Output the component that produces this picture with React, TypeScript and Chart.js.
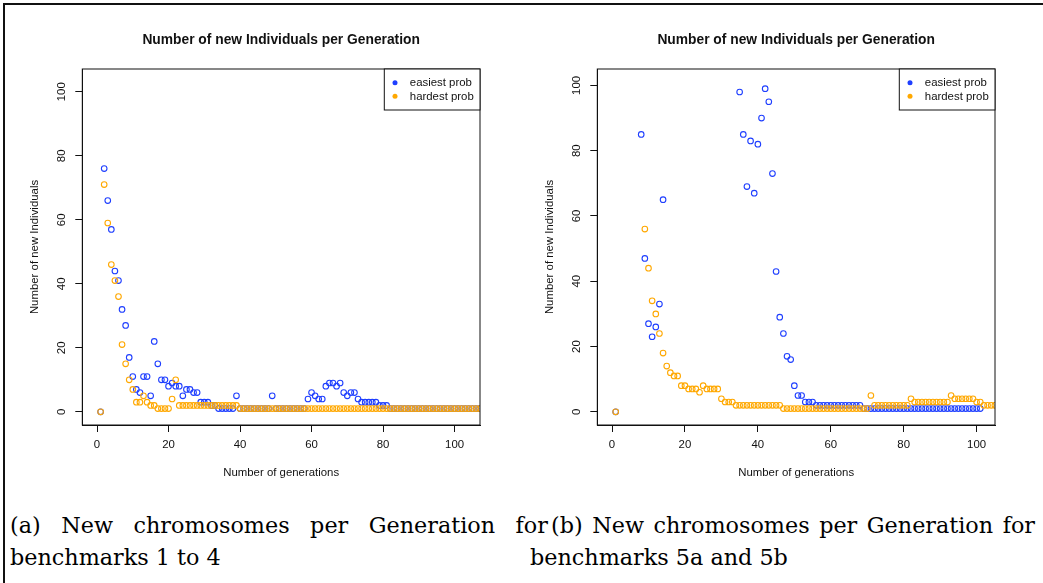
import React, { useEffect, useRef } from "react";
import { Chart, registerables } from "chart.js";

Chart.register(...registerables);

// ---------- data ----------
const chartTitle = "Number of new Individuals per Generation";
const xTitle = "Number of generations";
const yTitle = "Number of new Individuals";
const seriesLabels = ["easiest prob", "hardest prob"];
const xTicks = [0, 20, 40, 60, 80, 100];
const yTicks = [0, 20, 40, 60, 80, 100];
const captionA = ["(a) New chromosomes per Generation for", "benchmarks 1 to 4"];
const captionB = ["(b) New chromosomes per Generation for", "benchmarks 5a and 5b"];

// panel (a): benchmarks 1 to 4
const aGenerations = [
  1, 2, 3, 4, 5, 6, 7, 8, 9, 10, 11, 12, 13, 14, 15, 16, 17, 18, 19, 20,
  21, 22, 23, 24, 25, 26, 27, 28, 29, 30, 31, 32, 33, 34, 35, 36, 37, 38, 39, 40,
  41, 42, 43, 44, 45, 46, 47, 48, 49, 50, 51, 52, 53, 54, 55, 56, 57, 58, 59, 60,
  61, 62, 63, 64, 65, 66, 67, 68, 69, 70, 71, 72, 73, 74, 75, 76, 77, 78, 79, 80,
  81, 82, 83, 84, 85, 86, 87, 88, 89, 90, 91, 92, 93, 94, 95, 96, 97, 98, 99, 100,
  101, 102, 103, 104, 105, 106, 107,
];
const aEasiest = [
  0, 76, 66, 57, 44, 41, 32, 27, 17, 11,
  7, 6, 11, 11, 5, 22, 15, 10, 10, 8,
  9, 8, 8, 5, 7, 7, 6, 6, 3, 3,
  3, 2, 2, 1, 1, 1, 1, 1, 5, 1,
  1, 1, 1, 1, 1, 1, 1, 1, 5, 1,
  1, 1, 1, 1, 1, 1, 1, 1, 4, 6,
  5, 4, 4, 8, 9, 9, 8, 9, 6, 5,
  6, 6, 4, 3, 3, 3, 3, 3, 2, 2,
  2, 1, 1, 1, 1, 1, 1, 1, 1, 1,
  1, 1, 1, 1, 1, 1, 1, 1, 1, 1,
  1, 1, 1, 1, 1, 1, 1,
];
const aHardest = [
  0, 71, 59, 46, 41, 36, 21, 15, 10, 7,
  3, 3, 5, 3, 2, 2, 1, 1, 1, 1,
  4, 10, 2, 2, 2, 2, 2, 2, 2, 2,
  2, 2, 2, 2, 2, 2, 2, 2, 2, 1,
  1, 1, 1, 1, 1, 1, 1, 1, 1, 1,
  1, 1, 1, 1, 1, 1, 1, 1, 1, 1,
  1, 1, 1, 1, 1, 1, 1, 1, 1, 1,
  1, 1, 1, 1, 1, 1, 1, 1, 1, 1,
  1, 1, 1, 1, 1, 1, 1, 1, 1, 1,
  1, 1, 1, 1, 1, 1, 1, 1, 1, 1,
  1, 1, 1, 1, 1, 1, 1,
];

// panel (b): benchmarks 5a and 5b
const bGenerations = [
  1, 2, 3, 4, 5, 6, 7, 8, 9, 10, 11, 12, 13, 14, 15, 16, 17, 18, 19, 20,
  21, 22, 23, 24, 25, 26, 27, 28, 29, 30, 31, 32, 33, 34, 35, 36, 37, 38, 39, 40,
  41, 42, 43, 44, 45, 46, 47, 48, 49, 50, 51, 52, 53, 54, 55, 56, 57, 58, 59, 60,
  61, 62, 63, 64, 65, 66, 67, 68, 69, 70, 71, 72, 73, 74, 75, 76, 77, 78, 79, 80,
  81, 82, 83, 84, 85, 86, 87, 88, 89, 90, 91, 92, 93, 94, 95, 96, 97, 98, 99, 100,
  101, 102, 103, 104, 105,
];
const bEasiest = [
  0, null, null, null, null, null, null, 85, 47, 27,
  23, 26, 33, 65, null, null, null, null, null, null,
  null, null, null, null, null, null, null, null, null, null,
  null, null, null, null, 98, 85, 69, 83, 67, 82,
  90, 99, 95, 73, 43, 29, 24, 17, 16, 8,
  5, 5, 3, 3, 3, 2, 2, 2, 2, 2,
  2, 2, 2, 2, 2, 2, 2, 2, 1, 1,
  1, 1, 1, 1, 1, 1, 1, 1, 1, 1,
  1, 1, 1, 1, 1, 1, 1, 1, 1, 1,
  1, 1, 1, 1, 1, 1, 1, 1, 1, 1,
  1, null, null, null, null,
];
const bHardest = [
  0, null, null, null, null, null, null, null, 56, 44,
  34, 30, 24, 18, 14, 12, 11, 11, 8, 8,
  7, 7, 7, 6, 8, 7, 7, 7, 7, 4,
  3, 3, 3, 2, 2, 2, 2, 2, 2, 2,
  2, 2, 2, 2, 2, 2, 1, 1, 1, 1,
  1, 1, 1, 1, 1, 1, 1, 1, 1, 1,
  1, 1, 1, 1, 1, 1, 1, 1, 1, 1,
  5, 2, 2, 2, 2, 2, 2, 2, 2, 2,
  2, 4, 3, 3, 3, 3, 3, 3, 3, 3,
  3, 3, 5, 4, 4, 4, 4, 4, 4, 3,
  3, 2, 2, 2, 2,
];

// ---------- styles ----------
const SANS = '"Liberation Sans", Arial, Helvetica, sans-serif';
const BLUE = "#1f3fff";
const ORANGE = "#ffa800";
const INK = "#111";
const BASE = 11.4;

const rDecor = {
  id: "rDecor",
  afterDatasetsDraw(chart: any, _args: any, opts: any) {
    const { ctx, chartArea: a } = chart;
    ctx.save();
    ctx.strokeStyle = INK;
    ctx.lineWidth = 1;
    ctx.strokeRect(a.left, a.top, a.right - a.left, a.bottom - a.top);
    // legend box
    const w = opts.legendWidth;
    const h = 41;
    const lx = a.right - w;
    const ly = a.top;
    ctx.fillStyle = "#fff";
    ctx.fillRect(lx, ly, w, h);
    ctx.strokeRect(lx, ly, w, h);
    ctx.font = `${BASE}px ${SANS}`;
    ctx.textBaseline = "middle";
    ctx.textAlign = "left";
    chart.data.datasets.forEach((ds: any, i: number) => {
      const cy = ly + 13.7 + 13.6 * i;
      ctx.beginPath();
      ctx.fillStyle = ds.borderColor;
      ctx.arc(lx + 10.7, cy, 2.5, 0, Math.PI * 2);
      ctx.fill();
      ctx.fillStyle = INK;
      ctx.fillText(ds.label, lx + 25.5, cy + 0.5);
    });
    // main title
    ctx.font = `bold 13.8px ${SANS}`;
    ctx.textAlign = "center";
    ctx.fillStyle = INK;
    ctx.fillText(opts.title, (a.left + a.right) / 2, 40.5);
    ctx.restore();
  },
};

function toPoints(gens: number[], vals: (number | null)[]) {
  const pts: { x: number; y: number }[] = [];
  gens.forEach((g, i) => {
    const v = vals[i];
    if (v !== null && v !== undefined) pts.push({ x: g, y: v });
  });
  return pts;
}

type PanelProps = {
  left: number;
  width: number;
  gens: number[];
  easiest: (number | null)[];
  hardest: (number | null)[];
  xLim: number;
  yLim: number;
  yAxisWidth: number;
  rightPad: number;
  yTitlePad: number;
  legendWidth: number;
};

function Panel(p: PanelProps) {
  const ref = useRef<HTMLCanvasElement>(null);
  useEffect(() => {
    const xExt = p.xLim * 0.04;
    const yExt = p.yLim * 0.04;
    const tickFont = { family: SANS, size: BASE };
    const grid = {
      display: true,
      drawOnChartArea: false,
      drawTicks: true,
      tickLength: 7,
      color: INK,
      lineWidth: 1,
    };
    const border = { display: true, color: INK, width: 1 };
    const chart = new Chart(ref.current as HTMLCanvasElement, {
      type: "scatter",
      data: {
        datasets: [
          {
            label: seriesLabels[0],
            data: toPoints(p.gens, p.easiest),
            borderColor: BLUE,
            backgroundColor: "rgba(0,0,0,0)",
            pointRadius: 2.8,
            pointBorderWidth: 1.1,
            order: 2,
            clip: 0,
          },
          {
            label: seriesLabels[1],
            data: toPoints(p.gens, p.hardest),
            borderColor: ORANGE,
            backgroundColor: "rgba(0,0,0,0)",
            pointRadius: 2.8,
            pointBorderWidth: 1.1,
            order: 1,
            clip: 0,
          },
        ],
      },
      options: {
        animation: false,
        responsive: false,
        events: [],
        layout: { padding: { left: 0, right: p.rightPad, top: 69, bottom: 0 } },
        plugins: {
          legend: { display: false },
          tooltip: { enabled: false },
          title: { display: false },
          rDecor: { title: chartTitle, legendWidth: p.legendWidth },
        } as any,
        scales: {
          x: {
            type: "linear",
            min: -xExt,
            max: p.xLim + xExt,
            afterBuildTicks: (ax: any) => {
              ax.ticks = xTicks.map((v) => ({ value: v }));
            },
            afterFit: (ax: any) => {
              ax.height = 75;
            },
            grid,
            border,
            ticks: {
              font: tickFont,
              color: INK,
              padding: 6.5,
              minRotation: 0,
              maxRotation: 0,
              callback: (v: any) => String(v),
            },
            title: {
              display: true,
              text: xTitle,
              font: tickFont,
              color: INK,
              padding: { top: 0, bottom: 20 },
            },
          },
          y: {
            type: "linear",
            min: -yExt,
            max: p.yLim + yExt,
            afterBuildTicks: (ax: any) => {
              ax.ticks = yTicks.map((v) => ({ value: v }));
            },
            afterFit: (ax: any) => {
              ax.width = p.yAxisWidth;
            },
            grid,
            border,
            ticks: {
              font: tickFont,
              color: INK,
              padding: 3.6,
              minRotation: 90,
              maxRotation: 90,
              crossAlign: "center",
              callback: (v: any) => String(v),
            },
            title: {
              display: true,
              text: yTitle,
              font: tickFont,
              color: INK,
              padding: { top: p.yTitlePad, bottom: 0 },
            },
          },
        } as any,
      },
      plugins: [rDecor as any],
    });
    return () => chart.destroy();
  }, []);
  return (
    <canvas
      ref={ref}
      width={p.width}
      height={500}
      style={{ position: "absolute", left: p.left, top: 0, width: p.width, height: 500 }}
    />
  );
}

const capStyle: React.CSSProperties = {
  position: "absolute",
  fontFamily: '"DejaVu Serif", "Liberation Serif", serif',
  fontSize: 22.3,
  lineHeight: "32px",
  color: "#000",
  margin: 0,
  whiteSpace: "nowrap",
};

function JustifiedLine({ text, left, top, width }: { text: string; left: number; top: number; width: number }) {
  const words = text.split(" ");
  return (
    <div style={{ ...capStyle, left, top, width, display: "flex", justifyContent: "space-between" }}>
      {words.map((w, i) => (
        <span key={i}>{w}</span>
      ))}
    </div>
  );
}

export default function App() {
  return (
    <div
      style={{
        position: "fixed",
        left: 0,
        top: 0,
        width: 1043,
        height: 583,
        background: "#fff",
        overflow: "hidden",
      }}
    >
      <div
        style={{
          position: "absolute",
          left: 2.5,
          top: 2.5,
          width: 1100,
          height: 700,
          borderTop: "2px solid #111",
          borderLeft: "2px solid #111",
        }}
      />
      <Panel
        left={0}
        width={520}
        gens={aGenerations}
        easiest={aEasiest}
        hardest={aHardest}
        xLim={103}
        yLim={103}
        yAxisWidth={82.3}
        rightPad={40}
        yTitlePad={27.7}
        legendWidth={95.7}
      />
      <Panel
        left={520}
        width={523}
        gens={bGenerations}
        easiest={bEasiest}
        hardest={bHardest}
        xLim={101}
        yLim={101}
        yAxisWidth={77.3}
        rightPad={48}
        yTitlePad={22.9}
        legendWidth={95.7}
      />
      <JustifiedLine text={captionA[0]} left={10} top={509} width={538} />
      <div style={{ ...capStyle, left: 10, top: 541 }}>{captionA[1]}</div>
      <JustifiedLine text={captionB[0]} left={551} top={509} width={484} />
      <div style={{ ...capStyle, left: 530, top: 541 }}>{captionB[1]}</div>
    </div>
  );
}
